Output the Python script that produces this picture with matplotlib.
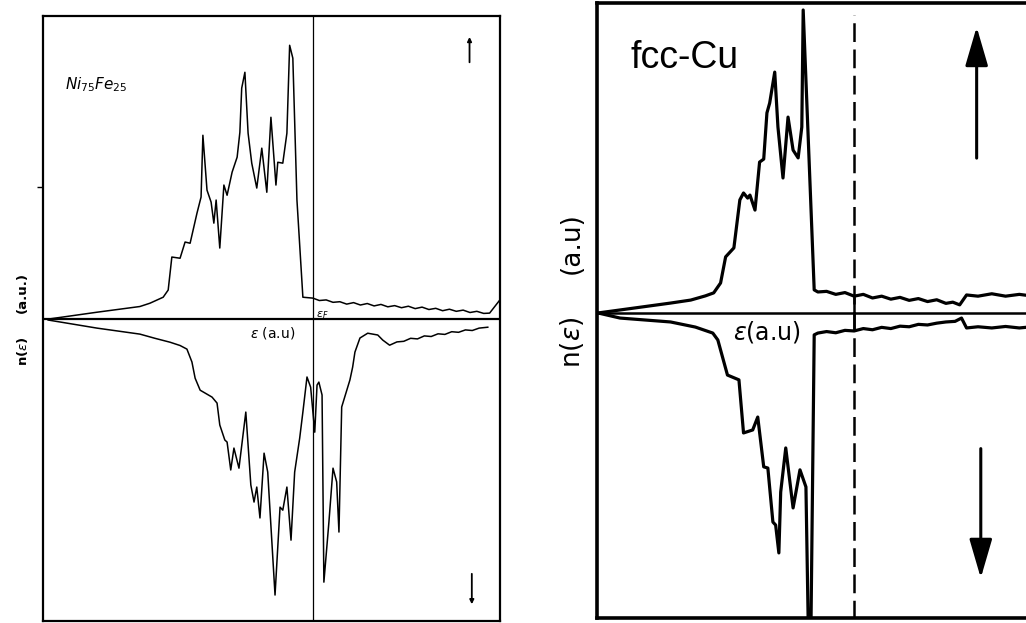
import matplotlib
matplotlib.use("Agg")
import matplotlib.pyplot as plt

# left panel: Ni75Fe25, spin up (positive) and spin down (negative), arbitrary units
ni_up_e = [0.11, 1.18, 2.12, 2.34, 2.63, 2.74, 2.82, 3.00, 3.11, 3.22, 3.37, 3.46, 3.50, 3.59,
           3.68, 3.74, 3.79, 3.87, 3.96, 4.03, 4.14, 4.25, 4.31, 4.35, 4.42, 4.49, 4.57,
           4.68, 4.79, 4.90, 4.99, 5.10, 5.14, 5.25, 5.34, 5.40, 5.47, 5.56, 5.69, 5.91,
           6.05, 6.20, 6.35, 6.50, 6.65, 6.80, 6.95, 7.10, 7.25, 7.40, 7.55, 7.70, 7.85,
           8.00, 8.15, 8.30, 8.45, 8.60, 8.75, 8.90, 9.05, 9.20, 9.35, 9.50, 9.65, 9.78, 10.0]
ni_up_n = [0.00, 0.23, 0.42, 0.53, 0.73, 0.97, 2.07, 2.03, 2.57, 2.53, 3.53, 4.07, 6.13, 4.30,
           3.90, 3.20, 3.97, 2.37, 4.47, 4.13, 4.90, 5.40, 6.23, 7.70, 8.23, 6.20, 5.20,
           4.37, 5.70, 4.23, 6.73, 4.47, 5.23, 5.20, 6.20, 9.13, 8.70, 3.97, 0.73, 0.70,
           0.62, 0.64, 0.56, 0.58, 0.50, 0.55, 0.47, 0.52, 0.44, 0.49, 0.41, 0.45, 0.38,
           0.43, 0.35, 0.40, 0.32, 0.36, 0.28, 0.33, 0.26, 0.30, 0.22, 0.26, 0.19, 0.20, 0.63]

ni_dn_e = [0.11, 1.18, 2.12, 2.45, 2.78, 3.00, 3.15, 3.26, 3.33, 3.44, 3.70, 3.81, 3.87, 3.98, 4.03,
           4.11, 4.18, 4.29, 4.44, 4.55, 4.62, 4.68, 4.75, 4.84, 4.92, 5.08, 5.19, 5.25,
           5.34, 5.43, 5.51, 5.62, 5.69, 5.78, 5.86, 5.95, 6.00, 6.04, 6.11, 6.15, 6.26,
           6.35, 6.43, 6.48, 6.54, 6.72, 6.78, 6.83, 6.94, 7.11, 7.33, 7.44, 7.59, 7.75,
           7.90, 8.05, 8.20, 8.35, 8.50, 8.65, 8.80, 8.95, 9.10, 9.25, 9.40, 9.55, 9.74]
ni_dn_n = [-0.03, -0.30, -0.50, -0.64, -0.77, -0.88, -1.00, -1.43, -1.97, -2.37, -2.60, -2.80, -3.53, -4.03, -4.10,
           -5.03, -4.30, -4.97, -3.10, -5.53, -6.10, -5.60, -6.63, -4.47, -5.10, -9.20, -6.27, -6.37,
           -5.60, -7.37, -5.10, -3.97, -3.10, -1.93, -2.27, -3.77, -2.20, -2.10, -2.53, -8.77, -6.77,
           -4.97, -5.43, -7.10, -2.93, -2.03, -1.60, -1.10, -0.63, -0.47, -0.53, -0.70, -0.87, -0.76,
           -0.74, -0.64, -0.66, -0.56, -0.58, -0.49, -0.51, -0.42, -0.44, -0.36, -0.38, -0.30, -0.27]

ni_fermi = 5.92

# right panel: fcc-Cu
cu_up_e = [0.02, 0.50, 1.60, 2.04, 2.36, 2.54, 2.69, 2.80, 2.98, 3.11, 3.19, 3.28, 3.33, 3.44,
           3.54, 3.63, 3.70, 3.76, 3.87, 3.94, 4.05, 4.16, 4.27, 4.38, 4.46, 4.49, 4.73,
           4.81, 5.00, 5.20, 5.40, 5.60, 5.80, 6.00, 6.20, 6.40, 6.60, 6.80, 7.00, 7.20,
           7.40, 7.60, 7.75, 7.90, 8.05, 8.30, 8.60, 8.90, 9.20, 9.40]
cu_up_n = [0.00, 0.10, 0.33, 0.43, 0.57, 0.67, 1.00, 1.87, 2.17, 3.77, 4.00, 3.83, 3.93, 3.43,
           5.03, 5.13, 6.67, 7.00, 8.03, 6.20, 4.50, 6.53, 5.43, 5.17, 6.20, 10.1, 0.77,
           0.70, 0.72, 0.62, 0.68, 0.56, 0.62, 0.50, 0.56, 0.46, 0.52, 0.42, 0.48, 0.38,
           0.44, 0.32, 0.36, 0.27, 0.60, 0.56, 0.64, 0.56, 0.62, 0.58]

cu_dn_e = [0.02, 0.50, 1.60, 2.14, 2.52, 2.63, 2.84, 3.09, 3.19, 3.39, 3.50, 3.63, 3.72, 3.83,
           3.89, 3.96, 4.00, 4.11, 4.27, 4.42, 4.55, 4.60, 4.66, 4.73, 4.81, 5.00, 5.20,
           5.40, 5.60, 5.80, 6.00, 6.20, 6.40, 6.60, 6.80, 7.00, 7.20, 7.40, 7.60, 7.80,
           7.94, 8.05, 8.30, 8.60, 8.90, 9.20, 9.40]
cu_dn_n = [0.00, -0.17, -0.30, -0.47, -0.67, -0.90, -2.07, -2.23, -4.00, -3.90, -3.47, -5.13, -5.17, -6.97,
           -7.07, -8.00, -5.97, -4.50, -6.50, -5.23, -5.80, -10.4, -10.4, -0.73, -0.67, -0.62, -0.66,
           -0.58, -0.60, -0.52, -0.56, -0.48, -0.52, -0.44, -0.46, -0.38, -0.40, -0.34, -0.30, -0.28,
           -0.17, -0.50, -0.46, -0.50, -0.45, -0.50, -0.47]

cu_fermi = 5.60

fig = plt.figure(figsize=(10.26, 6.23), dpi=100)

# ---- left panel
ax1 = fig.add_axes([0.042, 0.003, 0.445, 0.971])
ax1.plot(ni_up_e, ni_up_n, color='black', lw=1.1)
ax1.plot(ni_dn_e, ni_dn_n, color='black', lw=1.1)
ax1.axhline(0, color='black', lw=1.6)
ax1.axvline(ni_fermi, color='black', lw=0.9)
ax1.set_xlim(0, 10.0)
ax1.set_ylim(-10.07, 10.1)
ax1.set_xticks([])
ax1.set_yticks([4.4])
ax1.set_yticklabels([])
ax1.tick_params(axis='y', direction='out', length=4, width=1)
for s in ax1.spines.values():
    s.set_linewidth(1.6)

ax1.text(0.48, 7.83, r'$Ni_{75}Fe_{25}$', fontsize=11, va='center', ha='left')
ax1.text(5.03, -0.47, r'$\varepsilon$ (a.u)', fontsize=10, va='center', ha='center')
ax1.text(5.97, 0.12, r'$\varepsilon_F$', fontsize=8, va='center', ha='left')
ax1.annotate('', xy=(9.34, 9.5), xytext=(9.34, 8.47),
             arrowprops=dict(arrowstyle='-|>', color='black', lw=1.3,
                             mutation_scale=6))
ax1.annotate('', xy=(9.39, -9.6), xytext=(9.39, -8.4),
             arrowprops=dict(arrowstyle='-|>', color='black', lw=1.3,
                             mutation_scale=6))
fig.text(0.022, 0.530, '(a.u.)', rotation=90, fontsize=9.5, fontweight='bold',
         ha='center', va='center')
fig.text(0.022, 0.437, r'n($\varepsilon$)', rotation=90, fontsize=9.5, fontweight='bold',
         ha='center', va='center')

# ---- right panel
ax2 = fig.add_axes([0.582, 0.008, 0.42, 0.987])
ax2.plot(cu_up_e, cu_up_n, color='black', lw=2.3)
ax2.plot(cu_dn_e, cu_dn_n, color='black', lw=2.3)
ax2.axhline(0, color='black', lw=1.8)
ax2.plot([cu_fermi, cu_fermi], [-10.2, 9.93], color='black', lw=1.8,
         dashes=(7.5, 3))
ax2.plot([cu_fermi, cu_fermi], [-0.5, 0.5], color='black', lw=1.8)
ax2.set_xlim(0, 9.39)
ax2.set_ylim(-10.17, 10.33)
ax2.set_xticks([])
ax2.set_yticks([])
ax2.spines['right'].set_visible(False)
for s in ax2.spines.values():
    s.set_linewidth(2.6)

ax2.text(0.72, 8.5, 'fcc-Cu', fontsize=27, family='Liberation Sans',
         va='center', ha='left')
ax2.text(3.70, -0.62, r'$\varepsilon$(a.u)', fontsize=17, family='DejaVu Sans',
         va='center', ha='center')
ax2.annotate('', xy=(8.27, 9.63), xytext=(8.27, 5.07),
             arrowprops=dict(arrowstyle='-|>,head_length=1.2,head_width=0.35',
                             color='black', lw=2.2, mutation_scale=20))
ax2.annotate('', xy=(8.36, -8.93), xytext=(8.36, -4.43),
             arrowprops=dict(arrowstyle='-|>,head_length=1.2,head_width=0.35',
                             color='black', lw=2.2, mutation_scale=20))
fig.text(0.5575, 0.61, '(a.u)', rotation=90, fontsize=19, ha='center', va='center')
fig.text(0.5575, 0.451, r'n($\varepsilon$)', rotation=90, fontsize=19,
         ha='center', va='center')

fig.savefig('out.png', dpi=100)
